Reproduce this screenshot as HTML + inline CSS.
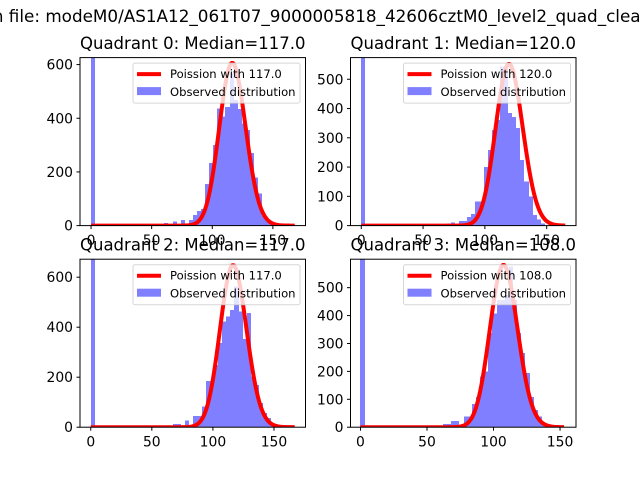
<!DOCTYPE html>
<html><head><meta charset="utf-8"><style>
html,body{margin:0;padding:0;background:#fff;}
svg{display:block;font-family:"DejaVu Sans","Liberation Sans",sans-serif;}
</style></head><body>
<svg id="fig" width="640" height="480" viewBox="0 0 640 480" xmlns="http://www.w3.org/2000/svg">
<rect width="640" height="480" fill="#fff"/>
<text x="-81" y="22" font-size="16.8" text-anchor="start">Data from file: modeM0/AS1A12_061T07_9000005818_42606cztM0_level2_quad_clean.evt</text>
</svg>
<script>
// ---- data ----
const titles = ["Quadrant 0: Median=117.0","Quadrant 1: Median=120.0","Quadrant 2: Median=117.0","Quadrant 3: Median=108.0"];
const medians = [117, 120, 117, 108];
const curvePeaks = [606, 552, 648, 581];
const curveMax = [168, 165, 167, 153];
const binWidths = [3.36, 3.3, 3.36, 3.1];
const counts0 = [2000,0,0,0,0,0,0,0,0,0,0,0,0,0,0,0,0,0,10,0,15,0,20,0,20,40,55,62,155,233,300,437,406,442,568,468,434,380,356,270,180,120,35,15,8,0,0,0,0,0];
const counts1 = [2000,0,0,0,0,0,0,0,0,0,0,0,0,0,0,0,0,0,0,0,0,8,10,5,15,15,30,40,82,82,200,258,327,360,543,545,385,371,333,224,150,99,36,20,8,0,0,0,0,0];
const counts2 = [2000,0,0,0,0,0,0,0,0,0,0,0,0,0,0,0,0,0,0,0,13,13,0,26,0,45,45,82,185,185,249,337,422,442,469,562,462,353,456,202,169,97,57,37,10,0,0,0,0,0];
const counts3 = [2000,0,0,0,0,0,0,0,0,0,0,0,0,0,0,0,0,0,0,0,11,11,22,22,0,38,38,83,109,181,199,338,408,456,456,474,575,456,338,266,194,109,62,38,15,8,0,0,0,0];
const xTicks = [0, 50, 100, 150];
const yTicks0 = [0, 200, 400, 600];
const yTicks1 = [0, 100, 200, 300, 400, 500];
const yTicks2 = [0, 200, 400, 600];
const yTicks3 = [0, 100, 200, 300, 400, 500];
// ---- layout ----
const allCounts = [counts0, counts1, counts2, counts3];
const allYTicks = [yTicks0, yTicks1, yTicks2, yTicks3];
const boxes = [[80,57.6,305.5,225.6],[350.5,57.6,576,225.6],[80,259.2,305.5,427.2],[350.5,259.2,576,427.2]];
const xlims = [[-9.1,176.9],[-8.7,173.7],[-8.8,175.8],[-7.5,162]];
const ytops = [626, 574, 672, 602];
const NS = "http://www.w3.org/2000/svg";
const svg = document.getElementById('fig');
function mk(tag, attrs, parent){const e=document.createElementNS(NS,tag);for(const k in attrs)e.setAttribute(k,attrs[k]);(parent||svg).appendChild(e);return e;}
function logFact(k){let s=0;for(let i=2;i<=k;i++)s+=Math.log(i);return s;}
function pmf(k,mu){return Math.exp(k*Math.log(mu)-mu-logFact(k));}

for(let q=0;q<4;q++){
  const [L,T,R,B]=boxes[q];
  const [x0,x1]=xlims[q];
  const xs=v=>L+(v-x0)/(x1-x0)*(R-L);
  const ys=v=>B-v/ytops[q]*(B-T);
  const g=mk('g',{});
  
  
  const cid='clip'+q;
  const cp=mk('clipPath',{id:cid},g);
  mk('rect',{x:L,y:T,width:R-L,height:B-T},cp);
  const plot=mk('g',{'clip-path':'url(#'+cid+')'},g);
  const w=binWidths[q];
  allCounts[q].forEach((c,i)=>{
    if(c<=0)return;
    const xa=Math.round(xs(i*w)), xb=Math.round(xs((i+1)*w));
    const r=mk('rect',{x:xa,y:ys(c),width:xb-xa,height:ys(0)-ys(c),fill:'#0000ff','fill-opacity':0.5,'shape-rendering':'crispEdges'},plot);
    
    
  });
  const mu=medians[q];
  const scale=curvePeaks[q]/pmf(Math.floor(mu),mu);
  let d='';
  for(let k=0;k<=curveMax[q];k++){d+=(k?'L':'M')+xs(k).toFixed(2)+','+ys(pmf(k,mu)*scale).toFixed(2);}
  const line=mk('path',{d:d,fill:'none',stroke:'#ff0000','stroke-width':4,'stroke-linejoin':'round'},plot);
  
  
  mk('rect',{x:L,y:T,width:R-L,height:B-T,fill:'none',stroke:'#000','stroke-width':1},g);
  xTicks.forEach(t=>{
    const x=xs(t);
    mk('line',{x1:x,x2:x,y1:B,y2:B+3.5,stroke:'#000'},g);
    const tx=mk('text',{x:x,y:B+19.5,'font-size':13.9,'text-anchor':'middle'},g);
    tx.textContent=t;
    
    
  });
  allYTicks[q].forEach(t=>{
    const y=ys(t);
    mk('line',{x1:L-3.5,x2:L,y1:y,y2:y,stroke:'#000'},g);
    const tx=mk('text',{x:L-7,y:y+5,'font-size':13.9,'text-anchor':'end'},g);
    tx.textContent=t;
    
    
  });
  const title=mk('text',{x:(L+R)/2,y:T-8.5,'font-size':16.5,'text-anchor':'middle'},g);
  title.textContent=titles[q];
  
  
  const lg=mk('g',{},g);
  
  
  const lx=R-5.5-167, ly=T+5.5;
  mk('rect',{x:lx,y:ly,width:167,height:40,rx:2,fill:'#fff','fill-opacity':0.8,stroke:'#cccccc','stroke-opacity':0.8},lg);
  mk('line',{x1:lx+4,x2:lx+28,y1:ly+11,y2:ly+11,stroke:'#ff0000','stroke-width':4},lg);
  mk('rect',{x:lx+4,y:ly+24,width:24,height:8,fill:'#0000ff','fill-opacity':0.5},lg);
  const t1=mk('text',{x:lx+37,y:ly+15,'font-size':11.6},lg);
  t1.textContent='Poission with '+mu.toFixed(1);
  
  
  const t2=mk('text',{x:lx+37,y:ly+33,'font-size':11.6},lg);
  t2.textContent='Observed distribution';
  
  
}
</script>
</body></html>
